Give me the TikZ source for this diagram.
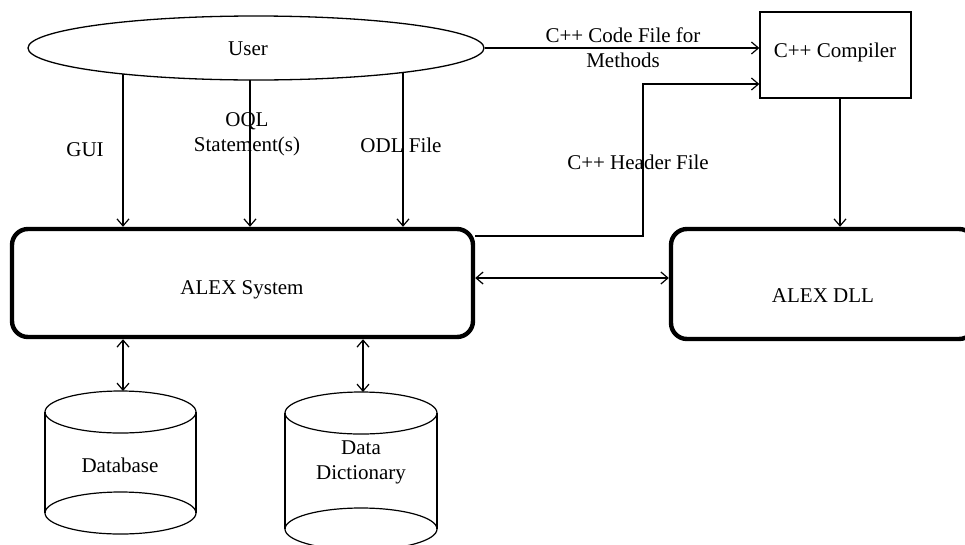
\documentclass[tikz,border=0pt]{standalone}
\usepackage{fontspec}
\setmainfont{Liberation Serif}
\usetikzlibrary{arrows.meta,shapes.geometric,backgrounds}
\begin{document}
\begin{tikzpicture}[x=1pt,y=-1pt,
  font=\fontsize{21}{25}\selectfont,
  arr/.style={line width=1.2pt,-{Straight Barb[length=7pt,width=12pt]}},
  darr/.style={line width=1.2pt,{Straight Barb[length=7pt,width=12pt]}-{Straight Barb[length=7pt,width=12pt]}},
  bigbox/.style={draw,line width=4.4pt,rounded corners=16pt,inner sep=0pt},
  thin/.style={line width=1.2pt},
  lbl/.style={align=center,inner sep=0pt}]
\useasboundingbox (0,0) rectangle (965,544);

% main shapes
\node[draw,ellipse,line width=1.3pt,fill=white,minimum width=456pt,minimum height=64pt,inner sep=0pt] (user) at (256,48) {};
\node[lbl] (usertxt) at (248,49) {User};
\node[draw,line width=1.3pt,minimum width=151pt,minimum height=86pt,inner sep=0pt] (comp) at (835.5,55) {};
\node[lbl] (comptxt) at (835,52) {C++ Compiler};
\node[bigbox,minimum width=461pt,minimum height=108pt] (sys) at (242.5,283) {};
\node[lbl] (systxt) at (242,290) {ALEX System};
\node[bigbox,minimum width=304pt,minimum height=110pt] (dll) at (823,284) {};
\node[lbl] (dlltxt) at (823,296) {ALEX DLL};

% cylinders
\draw[thin] (120.5,412) ellipse [x radius=75.5, y radius=21];
\draw[thin] (120.5,513) ellipse [x radius=75.5, y radius=21];
\draw[thin] (45,412) -- (45,513) (196,412) -- (196,513);
\node[lbl] (dbtxt) at (120,465) {Database};
\draw[thin] (361,413) ellipse [x radius=76, y radius=21];
\draw[thin] (361,529) ellipse [x radius=76, y radius=21];
\draw[thin] (285,413) -- (285,529) (437,413) -- (437,529);
\node[lbl] (ddtxt) at (361,462) {Data\\Dictionary};

\coordinate (dbtop) at (123,391);
\coordinate (ddtop) at (363,392);

% labels
\node[lbl] (gui) at (85,150) {GUI};
\node[lbl] (oql) at (247,134) {OQL\\Statement(s)};
\node[lbl] (odl) at (401,145) {ODL File};
\node[lbl] (code) at (623,48) {C++ Code File for\\Methods};
\node[lbl] (hdr) at (638,162) {C++ Header File};

% connectors
\coordinate (g) at (123,48);
\coordinate (q) at (250,48);
\coordinate (o) at (403,48);
\begin{pgfonlayer}{background}
\draw[arr] (g) -- (g |- sys.north);
\draw[arr] (q) -- (q |- sys.north);
\draw[arr] (o) -- (o |- sys.north);
\end{pgfonlayer}
\draw[arr] (user.east) -- (user.east -| comp.west);
\coordinate (h1) at (643,236);
\coordinate (h2) at (643,84);
\draw[arr] (h1 -| sys.east) -- (h1) -- (h2) -- (h2 -| comp.west);
\coordinate (cd) at (840,0);
\draw[arr] (cd |- comp.south) -- (cd |- dll.north);
\coordinate (m) at (560,278);
\draw[darr] (m -| sys.east) -- (m -| dll.west);
\draw[darr] (dbtop |- sys.south) -- (dbtop);
\draw[darr] (ddtop |- sys.south) -- (ddtop);
\end{tikzpicture}
\end{document}
